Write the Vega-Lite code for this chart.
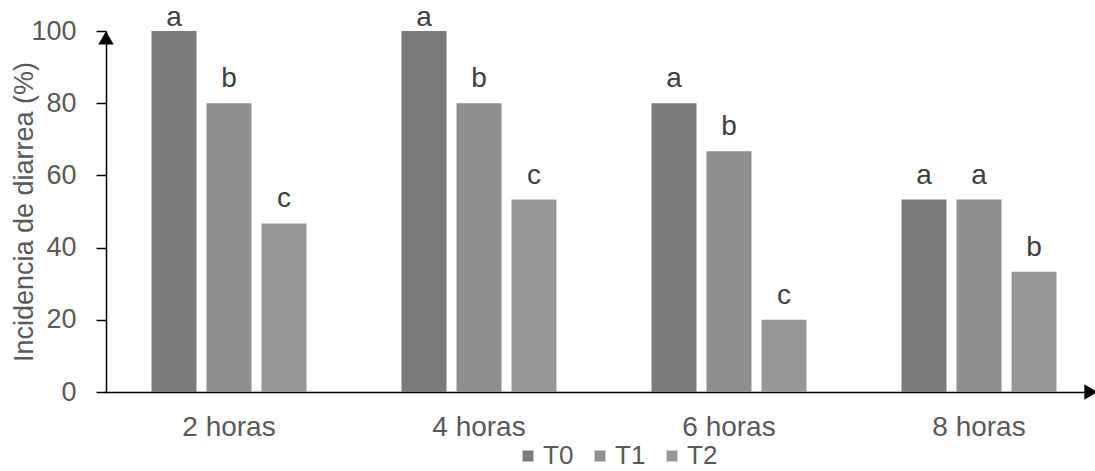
{
  "$schema": "https://vega.github.io/schema/vega-lite/v6.json",
  "autosize": "none",
  "width": 989,
  "height": 361,
  "padding": {"left": 106, "top": 31, "right": 0, "bottom": 79},
  "background": "white",
  "config": {
    "view": {"stroke": null},
    "font": "Liberation Sans",
    "axis": {"labelFont": "Liberation Sans", "titleFont": "Liberation Sans"}
  },
  "layer": [
    {
      "data": {
        "values": [
          {"tiempo": "2 horas", "trat": "T0", "incidencia": 100, "letra": "a"},
          {"tiempo": "2 horas", "trat": "T1", "incidencia": 80, "letra": "b"},
          {"tiempo": "2 horas", "trat": "T2", "incidencia": 46.7, "letra": "c"},
          {"tiempo": "4 horas", "trat": "T0", "incidencia": 100, "letra": "a"},
          {"tiempo": "4 horas", "trat": "T1", "incidencia": 80, "letra": "b"},
          {"tiempo": "4 horas", "trat": "T2", "incidencia": 53.3, "letra": "c"},
          {"tiempo": "6 horas", "trat": "T0", "incidencia": 80, "letra": "a"},
          {"tiempo": "6 horas", "trat": "T1", "incidencia": 66.7, "letra": "b"},
          {"tiempo": "6 horas", "trat": "T2", "incidencia": 20, "letra": "c"},
          {"tiempo": "8 horas", "trat": "T0", "incidencia": 53.3, "letra": "a"},
          {"tiempo": "8 horas", "trat": "T1", "incidencia": 53.3, "letra": "a"},
          {"tiempo": "8 horas", "trat": "T2", "incidencia": 33.3, "letra": "b"}
        ]
      },
      "encoding": {
        "x": {
          "field": "tiempo", "type": "nominal", "sort": null,
          "scale": {"range": [-2, 998], "paddingInner": 0.34, "paddingOuter": 0.17},
          "axis": {
            "title": null, "labelAngle": 0, "ticks": false,
            "domainColor": "black", "domainWidth": 1.5,
            "labelFontSize": 28, "labelColor": "#595959", "labelPadding": 21
          }
        },
        "xOffset": {
          "field": "trat", "type": "nominal", "sort": ["T0", "T1", "T2"],
          "scale": {"paddingInner": 0.182, "paddingOuter": 0.091}
        },
        "y": {
          "field": "incidencia", "type": "quantitative",
          "scale": {"domain": [0, 100], "nice": false},
          "axis": {
            "title": "Incidencia de diarrea (%)", "values": [0, 20, 40, 60, 80, 100],
            "grid": false, "domainColor": "black", "domainWidth": 1.5,
            "tickColor": "black", "tickWidth": 1.5, "tickSize": 10,
            "labelFontSize": 27, "labelColor": "#595959", "labelPadding": 20,
            "titleFontSize": 27, "titleFontWeight": "normal", "titleColor": "#595959",
            "titleX": -68
          }
        }
      },
      "layer": [
        {
          "mark": {"type": "bar", "stroke": null},
          "encoding": {
            "fill": {
              "field": "trat", "type": "nominal",
              "scale": {"domain": ["T0", "T1", "T2"], "range": ["#7a7a7a", "#8e8e8e", "#979797"]},
              "legend": {
                "title": null, "orient": "none", "direction": "horizontal",
                "legendX": 409, "legendY": 412,
                "symbolType": "square", "symbolSize": 121, "symbolStrokeWidth": 0,
                "labelFontSize": 26, "labelColor": "#595959", "labelOffset": 2,
                "columnPadding": 13
              }
            }
          }
        },
        {
          "transform": [{"filter": "datum.incidencia < 100"}],
          "mark": {"type": "text", "baseline": "alphabetic", "dy": -16, "fontSize": 28, "color": "#404040"},
          "encoding": {"text": {"field": "letra"}}
        },
        {
          "transform": [{"filter": "datum.incidencia >= 100"}],
          "mark": {"type": "text", "baseline": "alphabetic", "dy": -5, "fontSize": 28, "color": "#404040"},
          "encoding": {"text": {"field": "letra"}}
        }
      ]
    },
    {
      "data": {
        "values": [
          {"pos": 0, "nivel": 98.1, "flecha": "up"},
          {"pos": 0.985, "nivel": 0, "flecha": "right"}
        ]
      },
      "mark": {"type": "point", "filled": true, "color": "black", "opacity": 1, "size": 240},
      "encoding": {
        "x": {"field": "pos", "type": "quantitative", "scale": {"domain": [0, 1], "range": [0, 1000]}, "axis": null},
        "y": {"field": "nivel", "type": "quantitative"},
        "shape": {
          "field": "flecha", "type": "nominal",
          "scale": {"domain": ["up", "right"], "range": ["triangle-up", "triangle-right"]},
          "legend": null
        }
      }
    }
  ],
  "resolve": {"scale": {"x": "independent"}}
}
